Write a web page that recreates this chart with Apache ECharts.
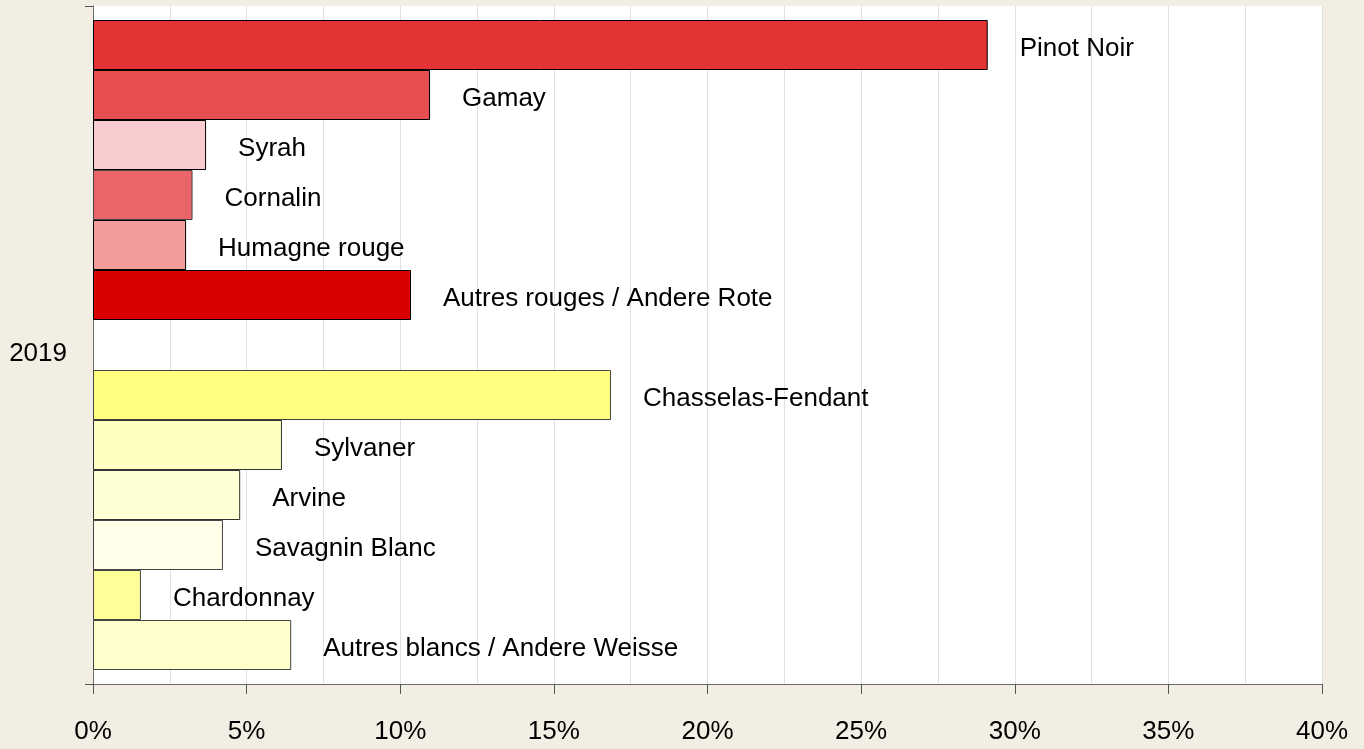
<!DOCTYPE html>
<html>
<head>
<meta charset="utf-8">
<script src="https://cdn.jsdelivr.net/npm/echarts@6/dist/echarts.min.js"></script>
<style>
html,body{margin:0;padding:0;background:#F2EEE3;}
#chart{width:1364px;height:749px;}
</style>
</head>
<body>
<div id="chart"></div>
<script>
var years = ['2019'];
var varieties = ['Pinot Noir', 'Gamay', 'Syrah', 'Cornalin', 'Humagne rouge', 'Autres rouges / Andere Rote', '',
  'Chasselas-Fendant', 'Sylvaner', 'Arvine', 'Savagnin Blanc', 'Chardonnay', 'Autres blancs / Andere Weisse'];
var shares = [29.12, 10.97, 3.68, 3.24, 3.03, 10.35, null, 16.86, 6.15, 4.79, 4.23, 1.56, 6.45];
var fillColors = ['#E33335', '#E64E50', '#F8CBCE', '#EA6567', '#F29C9B', '#DA0000', '#ffffff',
  '#FFFF80', '#FFFFC2', '#FFFFD6', '#FFFFEA', '#FFFF99', '#FFFFCC'];
var borderColors = ['#000', '#000', '#000', '#444', '#000', '#000', '#000',
  '#444', '#333', '#333', '#444', '#444', '#444'];
var xTicks = [0, 5, 10, 15, 20, 25, 30, 35, 40];

var FONT = "'Liberation Sans Narrow', 'Arial Narrow', 'Liberation Sans', Arial, sans-serif";
var FS = 26;

var series = varieties.map(function (name, i) {
  return {
    type: 'bar',
    name: name,
    data: [shares[i]],
    barWidth: 50,
    barGap: '0%',
    itemStyle: { color: fillColors[i], borderColor: borderColors[i], borderWidth: 1 },
    label: {
      show: name !== '',
      position: 'right',
      distance: 32,
      offset: [0, 4],
      formatter: name,
      fontFamily: FONT,
      fontSize: FS,
      color: '#000'
    },
    silent: true,
    animation: false
  };
});

var chart = echarts.init(document.getElementById('chart'), null, { renderer: 'canvas' });
chart.setOption({
  backgroundColor: '#F2EEE3',
  animation: false,
  grid: {
    left: 93, right: 42, top: 6, bottom: 65,
    containLabel: false,
    outerBoundsMode: 'none',
    show: true, backgroundColor: '#ffffff', borderWidth: 0
  },
  xAxis: {
    type: 'value',
    min: xTicks[0],
    max: xTicks[xTicks.length - 1],
    interval: 5,
    axisLine: { show: true, lineStyle: { color: '#6b6b6b', width: 1 } },
    axisTick: { show: true, length: 10, lineStyle: { color: '#555' } },
    axisLabel: { formatter: '{value}%', fontFamily: FONT, fontSize: FS, color: '#000', margin: 35 },
    splitLine: { show: true, lineStyle: { color: '#e0e0e0', width: 1 } },
    minorTick: { show: false, splitNumber: 2 },
    minorSplitLine: { show: true, lineStyle: { color: '#e0e0e0', width: 1 } }
  },
  yAxis: {
    type: 'category',
    data: years,
    inverse: true,
    axisLine: { show: true, lineStyle: { color: '#6b6b6b', width: 1 } },
    axisTick: { show: true, length: 8, lineStyle: { color: '#555' } },
    axisLabel: {
      margin: 26,
      formatter: '{v|{value}}',
      rich: { v: { fontFamily: FONT, fontSize: FS, color: '#000', padding: [18, 0, 0, 0] } }
    },
    splitLine: { show: false }
  },
  series: series
});
</script>
</body>
</html>
